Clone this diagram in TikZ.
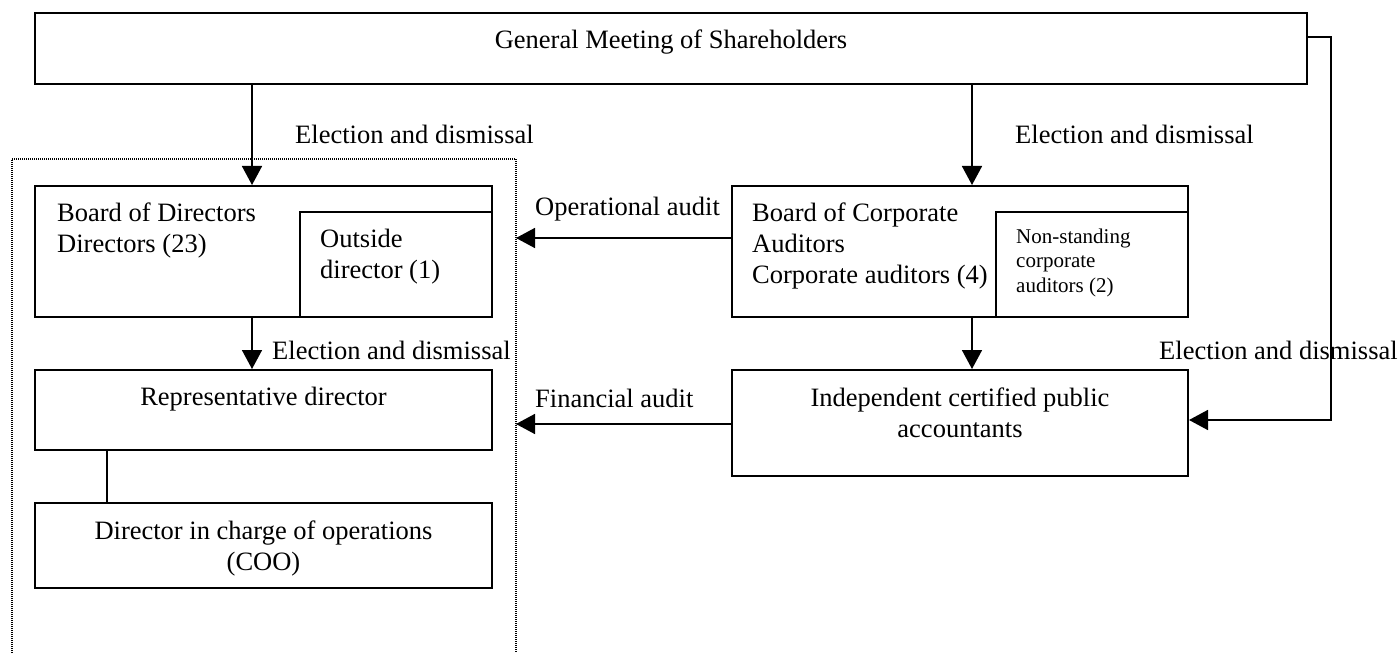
\documentclass[tikz,border=0pt]{standalone}
\usepackage{fontspec}
\setmainfont{Liberation Serif}
\usetikzlibrary{arrows.meta}
\newcommand\bigtxt{\fontsize{26.5pt}{31pt}\selectfont}
\newcommand\smalltxt{\fontsize{21pt}{24.5pt}\selectfont}
\begin{document}
\begin{tikzpicture}[x=1pt,y=-1pt,
  box/.style={draw, line width=2pt, inner sep=0pt},
  lbl/.style={inner sep=0pt, font=\bigtxt},
  arr/.style={line width=1.6pt, -{Triangle[length=19pt,width=20pt]}},
  ln/.style={line width=1.6pt},
  frame/.style={line width=1.2pt, dash pattern=on 1pt off 1pt}]
\useasboundingbox (0,0) rectangle (1400,655);

% dotted frame (open at the bottom)
\draw[frame] (12,653) -- (12,159) -- (516,159) -- (516,653);

% boxes
\node[box, minimum width=1272pt, minimum height=71pt] (GM) at (671,48.5) {};
\node[box, minimum width=457pt, minimum height=131pt] (BD) at (263.5,251.5) {};
\node[box, minimum width=192pt, minimum height=105pt] (OD) at (396,264.5) {};
\node[box, minimum width=457pt, minimum height=80pt] (RD) at (263.5,410) {};
\node[box, minimum width=457pt, minimum height=85pt] (COO) at (263.5,545.5) {};
\node[box, minimum width=456pt, minimum height=131pt] (BCA) at (960,251.5) {};
\node[box, minimum width=192pt, minimum height=105pt] (NS) at (1092,264.5) {};
\node[box, minimum width=456pt, minimum height=106pt] (ICPA) at (960,423) {};

% box texts
\node[lbl] (GMt) at (671,42) {General Meeting of Shareholders};
\node[lbl, align=left, anchor=west] (BDt) at (57,230.5) {Board of Directors\\Directors (23)};
\node[lbl, align=left, anchor=west] (ODt) at (320,257) {Outside\\director (1)};
\node[lbl] (RDt) at (263.5,399) {Representative director};
\node[lbl, align=center] (COOt) at (263.5,548) {Director in charge of operations\\(COO)};
\node[lbl, align=left, anchor=west] (BCAt) at (752,245.5) {Board of Corporate\\Auditors\\Corporate auditors (4)};
\node[lbl, font=\smalltxt, align=left, anchor=west] (NSt) at (1016,262.6) {Non-standing\\corporate\\auditors (2)};
\node[lbl, align=center] (ICPAt) at (960,412.5) {Independent certified public\\accountants};

% connector labels
\node[lbl, anchor=west] (l1) at (295,134) {Election and dismissal};
\node[lbl, anchor=west] (l2) at (1015,134) {Election and dismissal};
\node[lbl, anchor=west] (l3) at (272,350) {Election and dismissal};
\node[lbl, anchor=west] (l4) at (1159,350) {Election and dismissal};
\node[lbl, anchor=west] (l5) at (535,209) {Operational audit};
\node[lbl, anchor=west] (l6) at (535,398) {Financial audit};

% helper coordinates
\coordinate (xa) at (252,0);
\coordinate (xb) at (972,0);
\coordinate (xc) at (107,0);
\coordinate (opEnd) at (516,238);
\coordinate (finEnd) at (516,424);
\coordinate (r1) at (1331,37);
\coordinate (r2) at (1331,420);

% connectors
\draw[arr] (xa |- GM.south) -- (xa |- BD.north);
\draw[arr] (xb |- GM.south) -- (xb |- BCA.north);
\draw[arr] (xa |- BD.south) -- (xa |- RD.north);
\draw[ln] (xc |- RD.south) -- (xc |- COO.north);
\draw[arr] (xb |- BCA.south) -- (xb |- ICPA.north);
\draw[arr] (opEnd -| BCA.west) -- (opEnd);
\draw[arr] (finEnd -| ICPA.west) -- (finEnd);
\draw[arr] (r1 -| GM.east) -- (r1) -- (r2) -- (r2 -| ICPA.east);
\end{tikzpicture}
\end{document}
